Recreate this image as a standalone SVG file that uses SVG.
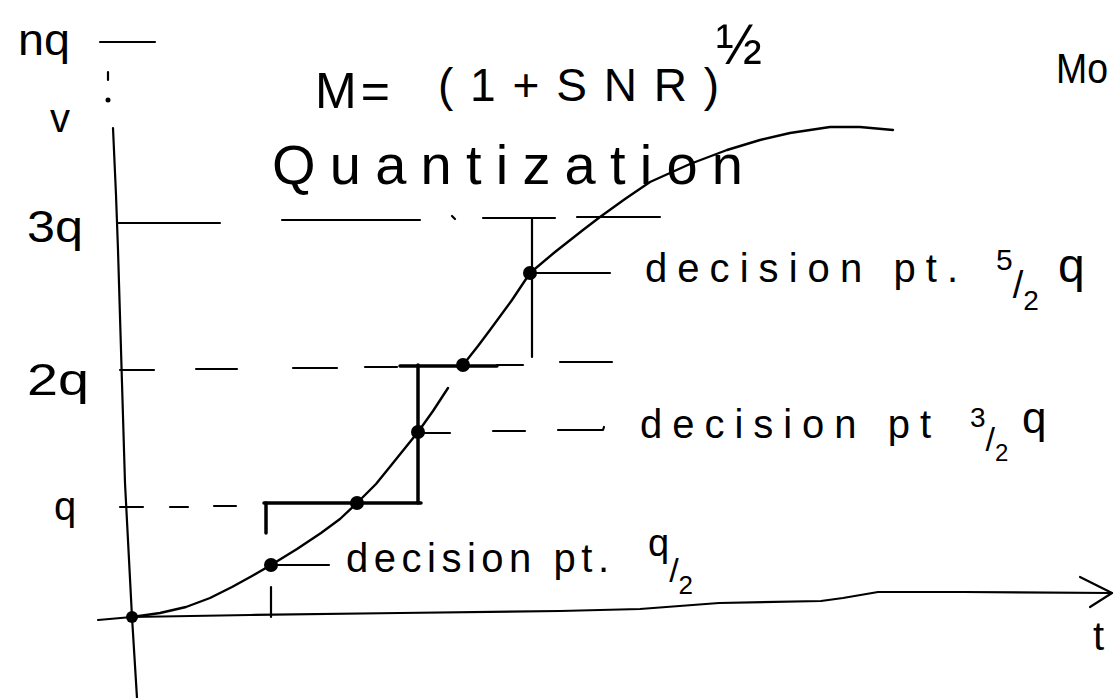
<svg xmlns="http://www.w3.org/2000/svg" width="1114" height="698" viewBox="0 0 1114 698">
<style>
.ln{stroke:#000;stroke-width:2.2;fill:none;stroke-linecap:round;stroke-linejoin:round}
.thk{stroke:#000;stroke-width:3.5;fill:none;stroke-linecap:round}
.cv{stroke:#000;stroke-width:2.4;fill:none;stroke-linecap:round;stroke-linejoin:round}
.t{font-family:"Liberation Sans","DejaVu Sans",sans-serif;fill:#000}
</style>
<rect width="1114" height="698" fill="#fff"/>
<g id="axes">
<line class="ln" x1="100" y1="42" x2="155" y2="42"/>
<line class="ln" x1="108" y1="72" x2="108" y2="80" stroke-width="3"/>
<circle cx="108" cy="100" r="2.5" fill="#000"/>
<polyline class="ln" points="113,128 116,195 118,250 125,483 132,617 137,698"/>
<polyline class="ln" points="98,620 132,617 250,615 400,613 560,611 640,609 719,603 821,601 843,598 878,592 963,592 1112,593"/>
<polyline class="ln" points="1080,577 1112,593 1090,607"/>
</g>
<g id="levels">
<line class="ln" x1="117" y1="223" x2="220" y2="223"/>
<line class="ln" x1="282" y1="220" x2="420" y2="220"/>
<line class="ln" x1="452" y1="216" x2="455" y2="219"/>
<line class="ln" x1="483" y1="218" x2="555" y2="218"/>
<line class="ln" x1="577" y1="217" x2="660" y2="217"/>
<line class="ln" x1="120" y1="370" x2="154" y2="370"/>
<line class="ln" x1="196" y1="369" x2="237" y2="369"/>
<line class="ln" x1="293" y1="368" x2="337" y2="368"/>
<line class="ln" x1="365" y1="367" x2="397" y2="367"/>
<line class="ln" x1="497" y1="365" x2="523" y2="365"/>
<line class="ln" x1="560" y1="362" x2="612" y2="362"/>
<line class="ln" x1="120" y1="507" x2="143" y2="507"/>
<line class="ln" x1="170" y1="507" x2="188" y2="507"/>
<line class="ln" x1="214" y1="506" x2="236" y2="506"/>
<line class="ln" x1="530" y1="273" x2="610" y2="273"/>
<line class="ln" x1="418" y1="433" x2="450" y2="433"/>
<line class="ln" x1="493" y1="431" x2="525" y2="431"/>
<polyline class="ln" points="558,430 603,430 604,427"/>
<line class="ln" x1="271" y1="565" x2="329" y2="565"/>
<line class="ln" x1="271" y1="587" x2="271" y2="617"/>
</g>
<g id="staircase">
<line class="thk" x1="266" y1="533" x2="266" y2="503"/>
<line class="thk" x1="264" y1="503" x2="421" y2="503"/>
<line class="thk" x1="418" y1="503" x2="418" y2="365"/>
<line class="thk" x1="400" y1="366" x2="497" y2="366"/>
<line class="ln" x1="532" y1="218" x2="532" y2="357"/>
</g>
<g id="curve">
<polyline class="cv" points="132,617 160,613 186,607 210,598 232,587 252,576 271,565 297,549 321,533 340,519 357,503 376,484 393,463 418,432 433,411 448,388"/>
<polyline class="cv" points="463,365 478,346 490,330 512,300 530,273 555,252 583,230 600,217 625,199 650,182 690,164 727,150 760,140 790,133 830,127 860,127 893,130"/>
</g>
<g id="points" fill="#000">
<circle cx="132" cy="617" r="6"/>
<circle cx="271" cy="565" r="7"/>
<circle cx="357" cy="503" r="7"/>
<circle cx="418" cy="432" r="7"/>
<circle cx="463" cy="365" r="7"/>
<circle cx="530" cy="273" r="7"/>
</g>
<g id="labels">
<text class="t" x="18" y="55" font-size="44" textLength="52" lengthAdjust="spacingAndGlyphs">nq</text>
<text class="t" x="50" y="132" font-size="40">v</text>
<text class="t" x="27" y="242" font-size="44" textLength="56" lengthAdjust="spacingAndGlyphs">3q</text>
<text class="t" x="27" y="395" font-size="44" textLength="62" lengthAdjust="spacingAndGlyphs">2q</text>
<text class="t" x="54" y="520" font-size="40">q</text>
<text class="t" x="1093" y="650" font-size="40">t</text>
</g>
<g id="title">
<text class="t" x="315" y="108" font-size="50" textLength="75">M=</text>
<text class="t" x="438" y="101" font-size="46" textLength="281">(1+SNR)</text>
<text class="t" x="716" y="64" font-size="58" textLength="46" lengthAdjust="spacingAndGlyphs">½</text>
<text class="t" x="1056" y="83" font-size="42" textLength="52" lengthAdjust="spacingAndGlyphs">Mo</text>
<text class="t" x="272" y="184" font-size="56" textLength="471">Quantization</text>
</g>
<g id="decision-5-2">
<text class="t" x="645" y="282" font-size="40" textLength="313">decision pt.</text>
<text class="t" x="996" y="270" font-size="30">5<tspan font-size="38" dy="28">/</tspan><tspan font-size="28" dy="12">2</tspan></text>
<text class="t" x="1058" y="282" font-size="48">q</text>
</g>
<g id="decision-3-2">
<text class="t" x="970" y="427" font-size="28">3<tspan font-size="34" dy="24">/</tspan><tspan font-size="24" dy="10">2</tspan></text>
<text class="t" x="640" y="438" font-size="40" textLength="291">decision pt</text>
<text class="t" x="1022" y="433" font-size="44">q</text>
</g>
<g id="decision-1-2">
<text class="t" x="346" y="572" font-size="40" textLength="263">decision pt.</text>
<text class="t" x="648" y="556" font-size="38">q<tspan font-size="34" dy="26">/</tspan><tspan font-size="26" dy="12">2</tspan></text>
</g>
</svg>
